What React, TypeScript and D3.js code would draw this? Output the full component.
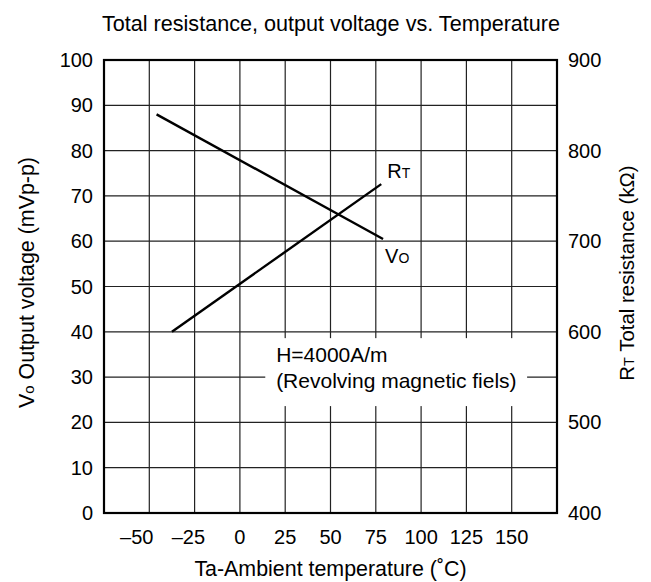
import React from "react";
import * as d3 from "d3";

const xTicks = [-50, -25, 0, 25, 50, 75, 100, 125, 150];
const xGrid = [-75, -50, -25, 0, 25, 50, 75, 100, 125, 150, 175];
const leftTicks = [0, 10, 20, 30, 40, 50, 60, 70, 80, 90, 100];
const rightTicks = [400, 500, 600, 700, 800, 900];

const voTemp = [-46, 79];
const voValues = [88, 60.5];
const rtTemp = [-37.5, 78];
const rtValues = [600, 763];

const W = 651;
const H = 582;
const M = { left: 104, right: 557, top: 60, bottom: 513 };
const FONT = "'Liberation Sans', Arial, Helvetica, sans-serif";

export default function App() {
  const x = d3.scaleLinear().domain([-75, 175]).range([M.left, M.right]);
  const yL = d3.scaleLinear().domain([0, 100]).range([M.bottom, M.top]);
  const yR = d3.scaleLinear().domain([400, 900]).range([M.bottom, M.top]);

  const voLine = d3
    .line<number>()
    .x((_, i) => x(voTemp[i]))
    .y((d) => yL(d))(voValues);
  const rtLine = d3
    .line<number>()
    .x((_, i) => x(rtTemp[i]))
    .y((d) => yR(d))(rtValues);

  const rtEndX = x(rtTemp[1]);
  const rtEndY = yR(rtValues[1]);
  const voEndX = x(voTemp[1]);
  const voEndY = yL(voValues[1]);

  const boxX0 = x(14);
  const boxX1 = x(158.5);
  const boxY0 = yL(38.6);
  const boxY1 = yL(23.6);

  return (
    <div style={{ position: "absolute", left: 0, top: 0 }}>
      <svg width={W} height={H} style={{ display: "block", background: "#fff" }} fontFamily={FONT}>
        <rect x={0} y={0} width={W} height={H} fill="#fff" />
        {/* grid */}
        {xGrid.map((t) => (
          <line key={"gx" + t} x1={x(t)} x2={x(t)} y1={M.top} y2={M.bottom} stroke="#222" strokeWidth={1.2} />
        ))}
        {leftTicks.map((t) => (
          <line key={"gy" + t} x1={M.left} x2={M.right} y1={yL(t)} y2={yL(t)} stroke="#222" strokeWidth={1.2} />
        ))}
        {/* annotation box */}
        <rect x={boxX0} y={boxY0} width={boxX1 - boxX0} height={boxY1 - boxY0} fill="#fff" />
        <text x={x(20)} y={362} fontSize={21} fill="#000">H=4000A/m</text>
        <text x={x(20)} y={388} fontSize={21} fill="#000">(Revolving magnetic fiels)</text>
        {/* frame */}
        <rect x={M.left} y={M.top} width={M.right - M.left} height={M.bottom - M.top} fill="none" stroke="#000" strokeWidth={2.2} />
        {/* data lines */}
        <path d={voLine ?? ""} fill="none" stroke="#000" strokeWidth={2.4} />
        <path d={rtLine ?? ""} fill="none" stroke="#000" strokeWidth={2.4} />
        {/* line labels */}
        <text x={rtEndX + 6} y={rtEndY - 6} fontSize={20} fill="#000">
          R<tspan fontSize={14}>T</tspan>
        </text>
        <text x={voEndX + 2} y={voEndY + 24} fontSize={20} fill="#000">
          V<tspan fontSize={14}>O</tspan>
        </text>
        {/* x tick labels */}
        {xTicks.map((t) => (
          <text key={"xt" + t} x={x(t) + (t < 0 ? t * 0.25 : 0)} y={544} fontSize={20} textAnchor="middle" fill="#000">
            {t < 0 ? "\u2013" + Math.abs(t) : String(t)}
          </text>
        ))}
        {/* left tick labels */}
        {leftTicks.map((t) => (
          <text key={"lt" + t} x={93} y={yL(t)} dy="0.35em" fontSize={20} textAnchor="end" fill="#000">
            {t}
          </text>
        ))}
        {/* right tick labels */}
        {rightTicks.map((t) => (
          <text key={"rt" + t} x={568} y={yR(t)} dy="0.35em" fontSize={20} textAnchor="start" fill="#000">
            {t}
          </text>
        ))}
        {/* title */}
        <text x={331} y={31} fontSize={21.6} textAnchor="middle" fill="#000">
          Total resistance, output voltage vs. Temperature
        </text>
        {/* x axis label */}
        <text x={(M.left + M.right) / 2} y={576} fontSize={21.4} textAnchor="middle" fill="#000">
          Ta-Ambient temperature (˚C)
        </text>
        {/* left axis label */}
        <text transform={`translate(34,${(M.top + M.bottom) / 2 - 4}) rotate(-90)`} fontSize={21.4} textAnchor="middle" fill="#000">
          V<tspan fontSize={15}>o</tspan> Output voltage (mVp-p)
        </text>
        {/* right axis label */}
        <text transform={`translate(634,273) rotate(-90)`} fontSize={20.4} textAnchor="middle" fill="#000">
          R<tspan fontSize={14.5}>T</tspan> Total resistance (kΩ)
        </text>
      </svg>
    </div>
  );
}
